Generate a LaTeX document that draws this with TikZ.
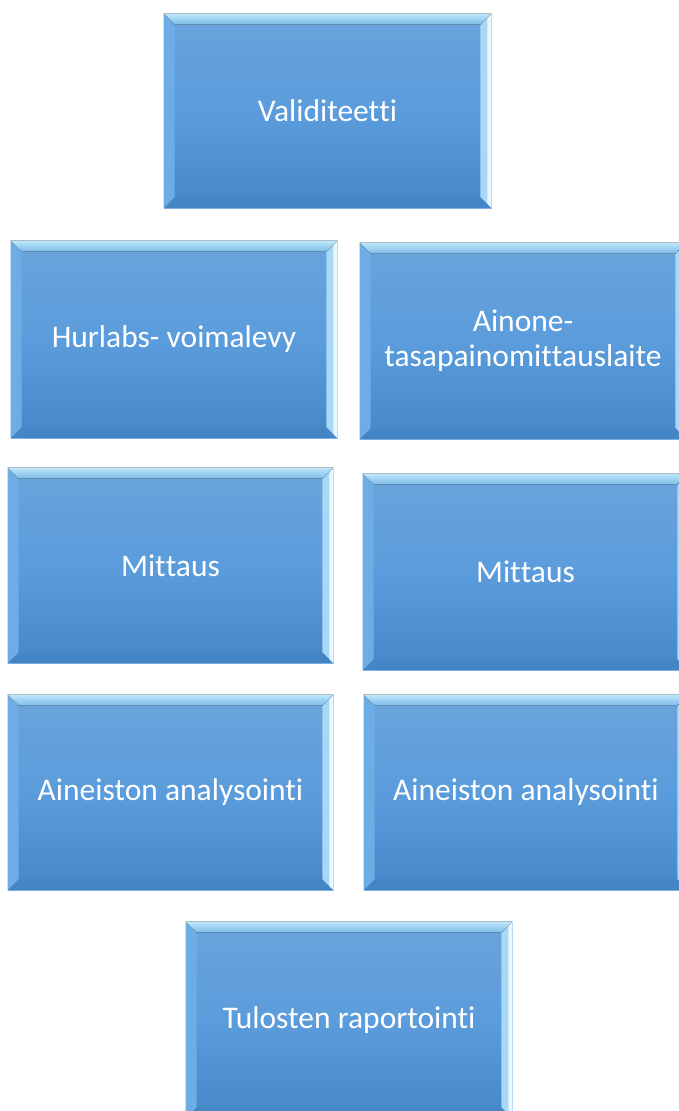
\documentclass[tikz,border=0pt]{standalone}
\usepackage{fontspec}
\setmainfont{Carlito}[Ligatures={NoCommon,NoRequired,NoContextual}]
\usetikzlibrary{calc,fit}
\newcommand\nl{\kern0pt }
\definecolor{maintop}{HTML}{6AA4DB}
\definecolor{mainmid}{HTML}{5B9CDC}
\definecolor{mainbot}{HTML}{4687C8}
\definecolor{beveltop}{HTML}{BDE8FB}
\definecolor{beveltopb}{HTML}{7DBAE8}
\definecolor{bevelleft}{HTML}{6DADE6}
\definecolor{bevelright}{HTML}{A8D8F6}
\definecolor{bevelrightedge}{HTML}{E8F8FE}
\definecolor{bevelbot}{HTML}{4485C6}
\definecolor{edgec}{HTML}{9CC6EC}
\tikzset{
  boxbody/.style={rectangle, inner sep=0pt, draw=edgec, line width=0.8pt,
    top color=maintop, bottom color=mainbot, middle color=mainmid},
  boxtext/.style={text=white, font=\fontsize{31.5}{35}\selectfont, align=center, inner sep=0pt},
  bevtop/.style={top color=beveltop, bottom color=beveltopb},
  bevleft/.style={fill=bevelleft},
  bevright/.style={fill=bevelright},
  bevrightedge/.style={fill=bevelrightedge},
  bevbot/.style={fill=bevelbot},
}
\newcommand\bevbox[6]{%
  \path (#2pt,-#3pt) coordinate (#1a) (#4pt,-#5pt) coordinate (#1b);
  \node[boxbody, fit=(#1a)(#1b)] (#1) {};
  \fill[bevleft] (#1.north west) -- ($(#1.north west)+(11pt,-11pt)$) -- ($(#1.south west)+(11pt,11pt)$) -- (#1.south west) -- cycle;
  \fill[bevright] (#1.north east) -- ($(#1.north east)+(-11pt,-11pt)$) -- ($(#1.south east)+(-11pt,11pt)$) -- (#1.south east) -- cycle;
  \fill[bevrightedge] (#1.north east) -- ($(#1.north east)+(-4pt,-4pt)$) -- ($(#1.south east)+(-4pt,4pt)$) -- (#1.south east) -- cycle;
  \fill[bevbot] (#1.south west) -- ($(#1.south west)+(11pt,11pt)$) -- ($(#1.south east)+(-11pt,11pt)$) -- (#1.south east) -- cycle;
  \fill[bevtop] (#1.north west) -- (#1.north east) -- ($(#1.north east)+(-11pt,-11pt)$) -- ($(#1.north west)+(11pt,-11pt)$) -- cycle;
  \node[boxtext] (#1t) at (#1.center) {#6};
}
\begin{document}
\begin{tikzpicture}
\useasboundingbox (0,0) rectangle (679pt,-1111pt);
\clip (0,0) rectangle (679pt,-1111pt);
\fill[white] (0,0) rectangle (679pt,-1111pt);
\bevbox{val}{164}{14}{491}{208}{Validiteet\nl t\nl i}
\bevbox{hur}{11}{241}{337}{438}{Hurlabs- voimalevy}
\bevbox{ain}{360}{243}{686}{439}{Ainone-\\tasapainomit\nl tauslaite}
\bevbox{mitl}{8}{468}{333}{663}{Mit\nl taus}
\bevbox{mitr}{363}{474}{688}{670}{Mit\nl taus}
\bevbox{anl}{8}{695}{333}{890}{Aineiston analysoint\nl i}
\bevbox{anr}{364}{695}{688}{890}{Aineiston analysoint\nl i}
\bevbox{tul}{186}{922}{512}{1118}{Tulosten raportoint\nl i}
\end{tikzpicture}
\end{document}
